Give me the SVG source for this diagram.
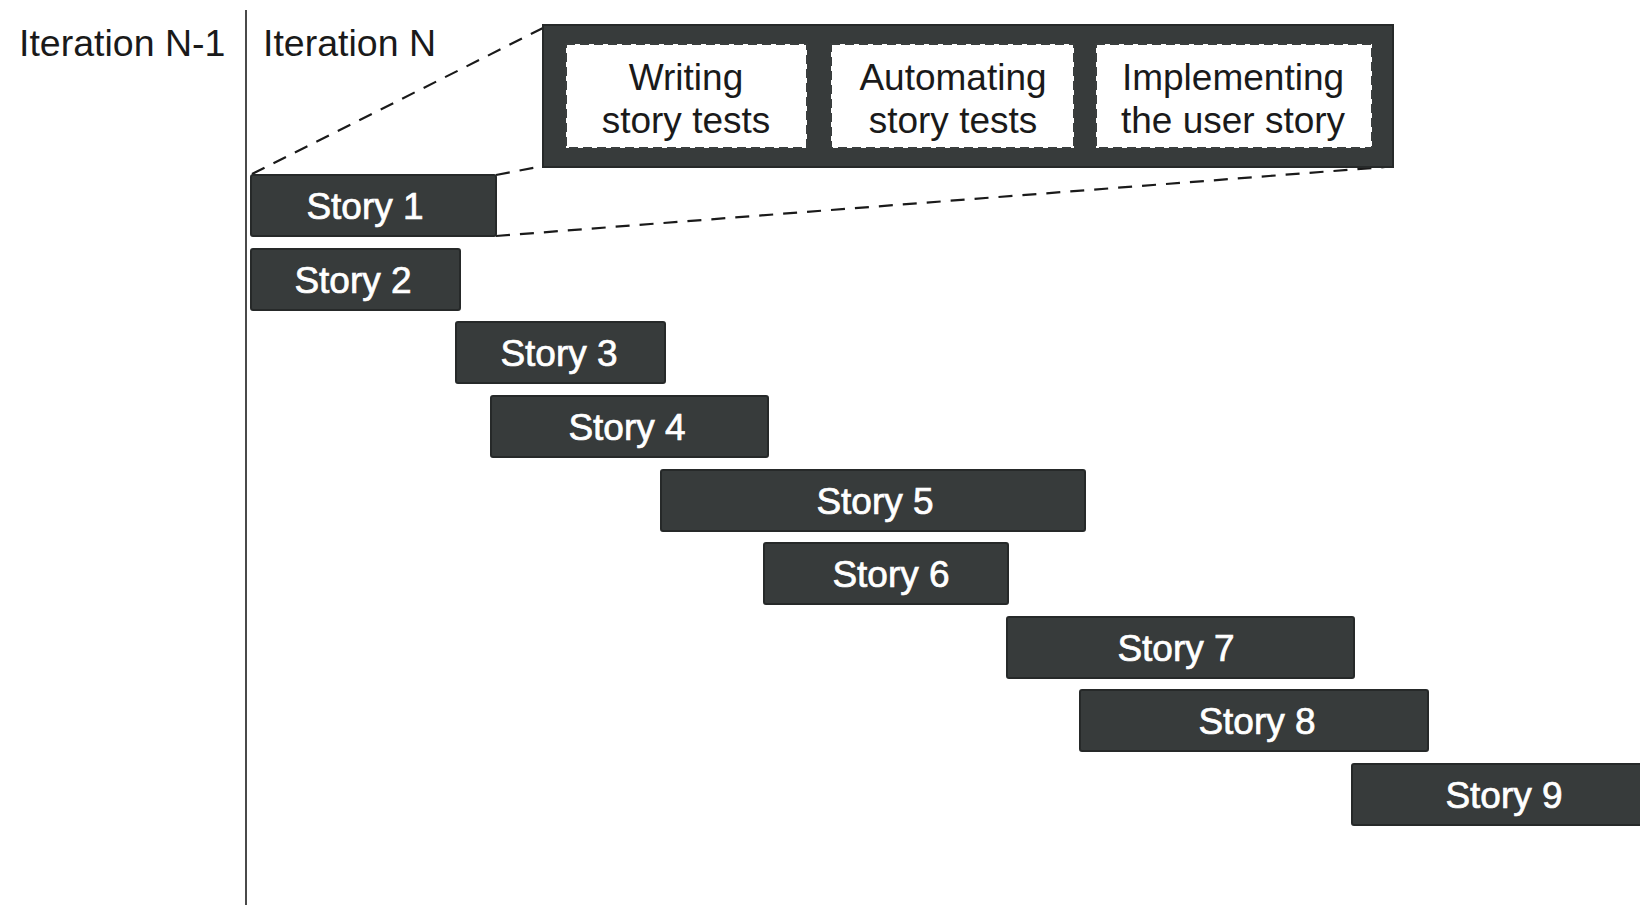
<svg xmlns="http://www.w3.org/2000/svg" width="1640" height="905" viewBox="0 0 1640 905">
<style>
.lbl{font-family:"Liberation Sans",Arial,sans-serif;font-size:37.5px;fill:#1a1a1a}
.st{fill:#373b3b;stroke:#262929;stroke-width:2}
.stx{font-family:"Liberation Sans",Arial,sans-serif;font-size:37px;fill:#ffffff;stroke:#ffffff;stroke-width:0.7;text-anchor:middle}
.in{fill:#ffffff;stroke:#3a3e3e;stroke-width:2;stroke-dasharray:9 5}
.itx{font-family:"Liberation Sans",Arial,sans-serif;font-size:37px;fill:#1a1a1a;text-anchor:middle}
.dl{stroke:#1a1a1a;stroke-width:2.2;stroke-dasharray:14 10;fill:none}
</style>
<rect width="1640" height="905" fill="#ffffff"/>
<line x1="246" y1="10" x2="246" y2="905" stroke="#4a4a4a" stroke-width="2"/>
<text class="lbl" x="19" y="56">Iteration N-1</text>
<text class="lbl" x="263" y="56">Iteration N</text>
<g id="connectors">
<line class="dl" x1="252" y1="174" x2="543" y2="28"/>
<line class="dl" x1="496" y1="175" x2="543" y2="166"/>
<line class="dl" x1="496" y1="236" x2="1385" y2="167"/>
</g>
<g id="detail">
<rect x="543" y="25" width="850" height="142" fill="#373b3b" stroke="#262929" stroke-width="2"/>
<g id="writing">
<rect class="in" x="566" y="44" width="241" height="104"/>
<text class="itx" x="686" y="90">Writing</text>
<text class="itx" x="686" y="133">story tests</text>
</g>
<g id="automating">
<rect class="in" x="831" y="44" width="243" height="104"/>
<text class="itx" x="953" y="90">Automating</text>
<text class="itx" x="953" y="133">story tests</text>
</g>
<g id="implementing">
<rect class="in" x="1096" y="44" width="276" height="104"/>
<text class="itx" x="1233" y="90">Implementing</text>
<text class="itx" x="1233" y="133">the user story</text>
</g>
</g>
<g id="story1"><rect class="st" x="251" y="175" width="245" height="61" rx="2"/><text class="stx" x="365" y="219">Story 1</text></g>
<g id="story2"><rect class="st" x="251" y="249" width="209" height="61" rx="2"/><text class="stx" x="353" y="293">Story 2</text></g>
<g id="story3"><rect class="st" x="456" y="322" width="209" height="61" rx="2"/><text class="stx" x="559" y="366">Story 3</text></g>
<g id="story4"><rect class="st" x="491" y="396" width="277" height="61" rx="2"/><text class="stx" x="627" y="440">Story 4</text></g>
<g id="story5"><rect class="st" x="661" y="470" width="424" height="61" rx="2"/><text class="stx" x="875" y="514">Story 5</text></g>
<g id="story6"><rect class="st" x="764" y="543" width="244" height="61" rx="2"/><text class="stx" x="891" y="587">Story 6</text></g>
<g id="story7"><rect class="st" x="1007" y="617" width="347" height="61" rx="2"/><text class="stx" x="1176" y="661">Story 7</text></g>
<g id="story8"><rect class="st" x="1080" y="690" width="348" height="61" rx="2"/><text class="stx" x="1257" y="734">Story 8</text></g>
<g id="story9"><rect class="st" x="1352" y="764" width="300" height="61" rx="2"/><text class="stx" x="1504" y="808">Story 9</text></g>
</svg>
